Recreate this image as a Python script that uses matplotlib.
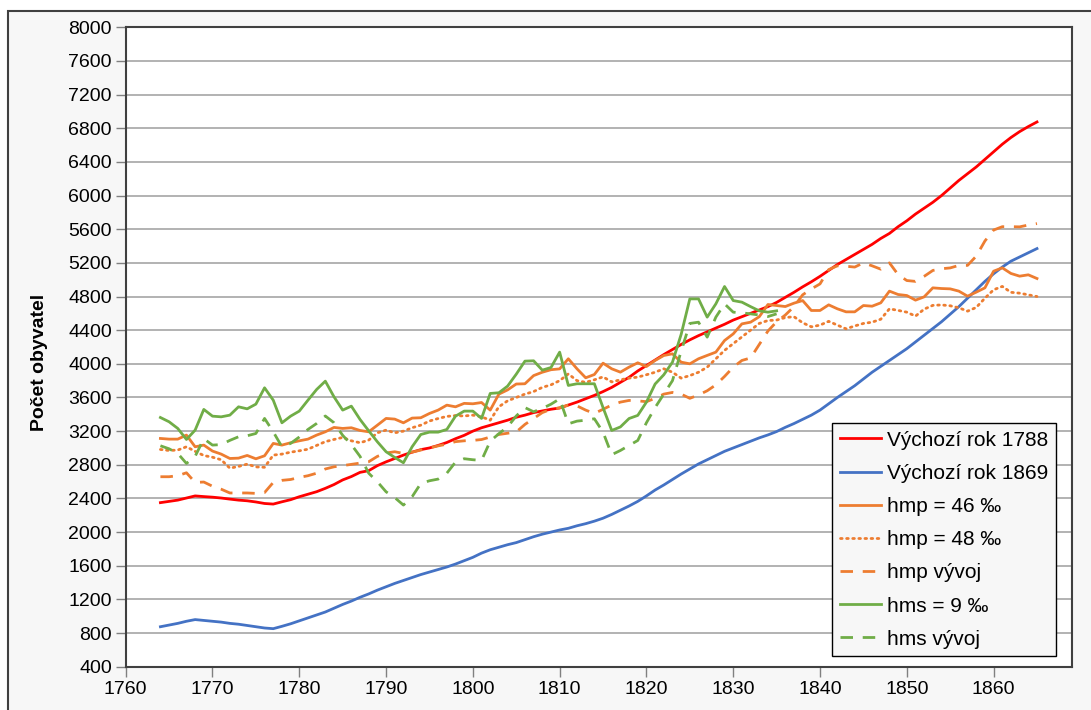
import matplotlib
matplotlib.use("Agg")
import matplotlib.pyplot as plt
from matplotlib.patches import Rectangle

plt.rcParams['font.family'] = ['Liberation Sans', 'DejaVu Sans']

# roky
years = list(range(1764, 1866))
years_hms = list(range(1764, 1836))

# Vychozi rok 1788
red = [2350, 2365, 2380, 2405, 2430, 2422, 2415, 2405, 2392, 2380,
       2372, 2358, 2340, 2333, 2360, 2385, 2420, 2450, 2480, 2520,
       2565, 2620, 2660, 2710, 2730, 2790, 2835, 2875, 2915, 2950,
       2980, 3000, 3030, 3065, 3110, 3150, 3200, 3240, 3270, 3300,
       3330, 3365, 3390, 3420, 3440, 3460, 3475, 3510, 3545, 3585,
       3625, 3670, 3720, 3780, 3840, 3915, 3980, 4045, 4110, 4170,
       4230, 4285, 4335, 4380, 4425, 4470, 4520, 4560, 4600, 4640,
       4680, 4730, 4790, 4850, 4915, 4975, 5040, 5110, 5180, 5240,
       5300, 5360, 5420, 5490, 5550, 5630, 5700, 5780, 5850, 5920,
       6000, 6090, 6180, 6260, 6340, 6430, 6520, 6610, 6690, 6760,
       6820, 6875]

# Vychozi rok 1869
blue = [875, 895, 915, 940, 960, 950, 940, 930, 915, 905,
        890, 875, 860, 852, 880, 910, 945, 980, 1015, 1050,
        1095, 1140, 1180, 1225, 1265, 1310, 1350, 1390, 1425, 1460,
        1495, 1525, 1555, 1585, 1620, 1660, 1700, 1750, 1790, 1820,
        1850, 1875, 1910, 1945, 1975, 2000, 2025, 2045, 2075, 2100,
        2130, 2165, 2210, 2260, 2310, 2365, 2430, 2500, 2560, 2625,
        2690, 2750, 2810, 2860, 2910, 2960, 3000, 3040, 3080, 3120,
        3155, 3195, 3245, 3290, 3340, 3390, 3450, 3525, 3600, 3670,
        3740, 3820, 3900, 3970, 4040, 4110, 4180, 4260, 4340, 4420,
        4500, 4590, 4680, 4780, 4880, 4980, 5070, 5150, 5220, 5270,
        5320, 5370]

# hmp = 46 promile
hmp46 = [3113, 3105, 3105, 3153, 3014, 3034, 2963, 2927, 2875, 2879,
         2911, 2871, 2907, 3054, 3034, 3062, 3085, 3105, 3153, 3192,
         3244, 3232, 3240, 3208, 3192, 3271, 3351, 3343, 3299, 3355,
         3359, 3410, 3450, 3509, 3489, 3530, 3525, 3540, 3450, 3640,
         3690, 3760, 3763, 3860, 3900, 3930, 3940, 4060, 3941, 3834,
         3873, 4008, 3941, 3901, 3961, 4012, 3968, 4040, 4099, 4119,
         4020, 4000, 4060, 4100, 4139, 4277, 4356, 4475, 4495, 4560,
         4705, 4693, 4681, 4721, 4752, 4634, 4634, 4701, 4654, 4618,
         4618, 4693, 4685, 4725, 4864, 4824, 4812, 4757, 4796, 4903,
         4895, 4891, 4864, 4804, 4852, 4903, 5101, 5141, 5074, 5042,
         5058, 5014]

# hmp = 48 promile
hmp48 = [2982, 2970, 2975, 3014, 2960, 2910, 2890, 2860, 2760, 2780,
         2808, 2775, 2770, 2915, 2927, 2950, 2966, 2985, 3030, 3075,
         3101, 3125, 3085, 3062, 3093, 3180, 3212, 3180, 3200, 3240,
         3271, 3320, 3350, 3375, 3385, 3380, 3390, 3370, 3330, 3490,
         3560, 3600, 3640, 3670, 3720, 3750, 3800, 3880, 3800, 3780,
         3810, 3845, 3785, 3810, 3830, 3842, 3870, 3900, 3941, 3900,
         3830, 3860, 3900, 3960, 4060, 4160, 4240, 4320, 4400, 4480,
         4515, 4520, 4550, 4560, 4488, 4440, 4460, 4505, 4460, 4416,
         4450, 4480, 4495, 4530, 4654, 4635, 4614, 4567, 4650, 4695,
         4700, 4690, 4666, 4626, 4670, 4780, 4880, 4920, 4850, 4840,
         4820, 4800]

# hmp vyvoj
hmp_vyvoj = [2658, 2658, 2670, 2705, 2590, 2595, 2545, 2510, 2465, 2465,
             2465, 2460, 2470, 2590, 2615, 2625, 2650, 2670, 2700, 2750,
             2776, 2790, 2805, 2820, 2836, 2900, 2940, 2955, 2935, 2950,
             2975, 3000, 3025, 3045, 3075, 3085, 3090, 3100, 3130, 3160,
             3175, 3190, 3280, 3350, 3420, 3460, 3477, 3510, 3500, 3450,
             3410, 3460, 3510, 3545, 3565, 3560, 3550, 3590, 3640, 3660,
             3640, 3590, 3630, 3680, 3750, 3850, 3960, 4040, 4070, 4230,
             4390, 4500, 4580, 4680, 4820, 4890, 4950, 5120, 5165, 5160,
             5150, 5200, 5165, 5125, 5200, 5060, 4990, 4980, 5040, 5110,
             5130, 5140, 5170, 5170, 5280, 5460, 5590, 5630, 5630, 5628,
             5650, 5667]

# hms = 9 promile
hms9 = [3362, 3311, 3232, 3101, 3212, 3458, 3378, 3370, 3390, 3489,
        3465, 3521, 3715, 3568, 3299, 3378, 3438, 3568, 3695, 3794,
        3608, 3450, 3497, 3339, 3204, 3073, 2955, 2887, 2824, 3014,
        3160, 3188, 3188, 3220, 3378, 3438, 3438, 3351, 3648, 3656,
        3735, 3877, 4032, 4036, 3925, 3956, 4139, 3743, 3763, 3763,
        3763, 3480, 3208, 3250, 3350, 3387, 3545, 3760, 3870, 4020,
        4350, 4772, 4772, 4555, 4713, 4919, 4752, 4733, 4680, 4630,
        4614, 4630]

# hms vyvoj
hms_vyvoj = [3026, 2990, 2935, 2816, 2900, 3110, 3034, 3040, 3090, 3133,
             3145, 3172, 3351, 3192, 3014, 3054, 3130, 3220, 3291, 3380,
             3300, 3150, 3040, 2900, 2700, 2598, 2479, 2410, 2321, 2420,
             2578, 2610, 2630, 2700, 2832, 2872, 2860, 2852, 3080, 3170,
             3250, 3380, 3480, 3430, 3470, 3520, 3584, 3287, 3319, 3330,
             3347, 3188, 2920, 2970, 3030, 3089, 3300, 3480, 3640, 3800,
             4150, 4480, 4495, 4317, 4555, 4713, 4614, 4606, 4594, 4580,
             4562, 4594]

labels = ["Výchozí rok 1788", "Výchozí rok 1869", "hmp = 46 ‰", "hmp = 48 ‰",
          "hmp vývoj", "hms = 9 ‰", "hms vývoj"]

RED = "#FF0000"
BLUE = "#4472C4"
ORANGE = "#ED7D31"
GREEN = "#70AD47"

fig = plt.figure(figsize=(10.91, 7.10), dpi=100)
fig.patch.set_facecolor("white")
# sede pozadi grafu s okrajem
bg = Rectangle((8 / 1091, -0.05), 1.1, 1 - 11 / 710 + 0.05,
               transform=fig.transFigure, facecolor="#f7f7f7",
               edgecolor="#404040", linewidth=1.5, zorder=-10)
fig.add_artist(bg)

ax = fig.add_axes([125.7 / 1091, 1 - 666.7 / 710, 946 / 1091, 639.4 / 710])
ax.set_zorder(1)
ax.set_facecolor("white")

lw = 2.0
ax.plot(years, red, color=RED, lw=lw, label=labels[0])
ax.plot(years, blue, color=BLUE, lw=lw, label=labels[1])
ax.plot(years, hmp46, color=ORANGE, lw=lw, label=labels[2])
ax.plot(years, hmp48, color=ORANGE, lw=lw, linestyle=(0, (0.6, 1.6)),
        dash_capstyle="round", label=labels[3])
ax.plot(years, hmp_vyvoj, color=ORANGE, lw=lw, linestyle=(0, (4.5, 3.5)), label=labels[4])
ax.plot(years_hms, hms9, color=GREEN, lw=lw, label=labels[5])
ax.plot(years_hms, hms_vyvoj, color=GREEN, lw=lw, linestyle=(0, (4.5, 3.5)), label=labels[6])

ax.set_xlim(1760, 1869)
ax.set_ylim(400, 8000)
ax.set_xticks(range(1760, 1861, 10))
ax.set_yticks(range(400, 8001, 400))
ax.grid(axis="y", color="#a6a6a6", lw=1.2)
ax.set_axisbelow(True)
for s in ax.spines.values():
    s.set_color("#404040")
    s.set_linewidth(1.5)
ax.tick_params(axis="both", labelsize=14, length=7, width=1, color="#808080", pad=3)

fig.text(40 / 1091, 0.49, "Počet obyvatel", rotation=90, fontsize=14,
         fontweight="bold", ha="center", va="center")

leg = ax.legend(loc="lower right", bbox_to_anchor=(0.9834, 0.0167), borderaxespad=0,
                fontsize=15, frameon=True, fancybox=False, handlelength=2.0,
                labelspacing=0.68, handletextpad=0.3, borderpad=0.35)
leg.get_frame().set_edgecolor("black")
leg.get_frame().set_linewidth(1.0)
leg.get_frame().set_facecolor("#f7f7f7")
leg.get_frame().set_alpha(1)

fig.savefig("out.png", dpi=100)
